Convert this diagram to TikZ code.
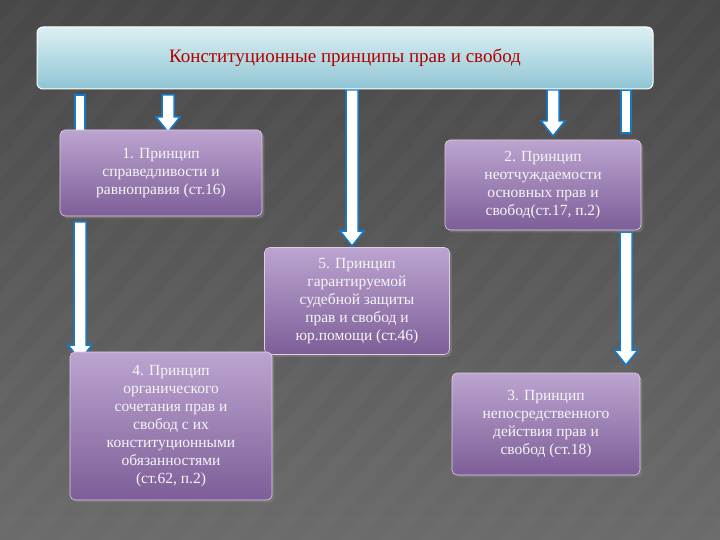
\documentclass[tikz,border=0pt]{standalone}
\usepackage{fontspec}
\setmainfont{Liberation Serif}
\usetikzlibrary{shadows}
\definecolor{ptop}{HTML}{BCA4D0}
\definecolor{pbot}{HTML}{7D5E98}
\definecolor{ttop}{HTML}{DDF0F4}
\definecolor{tbot}{HTML}{8EC5D3}
\begin{document}
\begin{tikzpicture}[x=1pt,y=-1pt,
  pbox/.style={rounded corners=5pt,top color=ptop,bottom color=pbot,
    draw=white!80!violet,line width=0.6pt,drop shadow={opacity=0.6},
    text=white!92!gray,font=\fontsize{15.5}{18}\selectfont,align=center,inner sep=2pt},
  bar/.style={fill=white,draw=cyan!60!blue,line width=1.5pt,line join=miter}]
\useasboundingbox (0,0) rectangle (720,540);
\shade[top color=black!72,bottom color=black!58] (0,0) rectangle (720,540);
\foreach \i in {0,40,...,1200}{\fill[white,opacity=0.02] (\i-500,540) -- (\i-480,540) -- (\i,0) -- (\i-20,0) -- cycle;}
\newcommand\barrow[3]{\draw[bar] (#1-6,#2) -- (#1+6,#2) -- (#1+6,#3-15) -- (#1+12,#3-15) -- (#1,#3) -- (#1-12,#3-15) -- (#1-6,#3-15) -- cycle;}
\newcommand\bbar[3]{\draw[bar] (#1-5,#2) rectangle (#1+5,#3);}
\bbar{80}{95}{132}
\barrow{168}{95}{132}
\barrow{352}{90}{246}
\barrow{553}{90}{136}
\bbar{626}{90}{133}
\barrow{80}{222}{360}
\barrow{626}{232}{365}
\node[rounded corners=6pt,top color=ttop,bottom color=tbot,draw=white,line width=1pt,
  minimum width=616pt,minimum height=62pt,text=red!70!black,font=\fontsize{19}{22}\selectfont] (top) at (345,58) {Конституционные принципы прав и свобод};
\node[pbox,minimum width=202pt,minimum height=86pt] (b1) at (161,173) {1. Принцип\\справедливости и\\равноправия (ст.16)};
\node[pbox,minimum width=196pt,minimum height=90pt] (b2) at (543,185) {2. Принцип\\неотчуждаемости\\основных прав и\\свобод(ст.17, п.2)};
\node[pbox,minimum width=185pt,minimum height=107pt] (b5) at (357,301) {5. Принцип\\гарантируемой\\судебной защиты\\прав и свобод и\\юр.помощи (ст.46)};
\node[pbox,minimum width=202pt,minimum height=148pt] (b4) at (171,426) {4. Принцип\\органического\\сочетания прав и\\свобод с их\\конституционными\\обязанностями\\(ст.62, п.2)};
\node[pbox,minimum width=188pt,minimum height=102pt] (b3) at (546,424) {3. Принцип\\непосредственного\\действия прав и\\свобод (ст.18)};
\end{tikzpicture}
\end{document}
